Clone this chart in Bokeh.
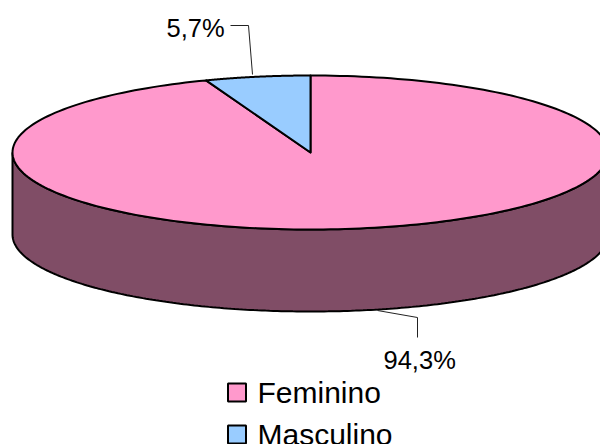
import numpy as np
from bokeh.plotting import figure
from bokeh.embed import file_html
from bokeh.resources import INLINE
from bokeh.core.properties import value

categories = ["Feminino", "Masculino"]
shares = [94.3, 5.7]
labels = ["94,3%", "5,7%"]
colors = ["#FF99CC", "#99CCFF"]
side_color = "#804D66"

CX, CY, RX, RY, DEPTH = 310, 152, 298, 77, 82
FONT = value("Liberation Sans")

p = figure(width=600, height=444, x_range=(0, 600), y_range=(444, 0),
           toolbar_location=None, output_backend="svg", min_border=0,
           outline_line_color=None, background_fill_color="white")
p.axis.visible = False
p.grid.visible = False

def arc(a0, a1, n=240):
    t = np.radians(np.linspace(a0, a1, n))
    return CX + RX * np.sin(t), CY - RY * np.cos(t)

sx, sy = arc(90, 270)
p.patch(np.r_[sx, sx[::-1]], np.r_[sy, sy[::-1] + DEPTH],
        fill_color=side_color, line_color="black", line_width=2)

start = 0.0
total = sum(shares)
for share, col in zip(shares, colors):
    end = start + 360 * share / total
    ax, ay = arc(start, end)
    p.patch(np.r_[CX, ax], np.r_[CY, ay], fill_color=col,
            line_color="black", line_width=2, line_join="round")
    start = end

p.line([377, 417, 417], [310, 317, 337], line_color="#222222", line_width=1)
p.line([230, 248, 252], [25, 25, 74], line_color="#222222", line_width=1)

p.text([383, 166], [359, 27], text=labels, text_font=FONT, text_font_size="25.5px",
       text_color="black", text_align="left", text_baseline="alphabetic")

leg_y = [392, 434]
p.rect([236.5] * 2, leg_y, width=18, height=18, fill_color=colors,
       line_color="black", line_width=2)
p.text([257] * 2, [392, 434], text=categories, text_font=FONT, text_font_size="30px",
       text_color="black", text_align="left", text_baseline="alphabetic")

html = file_html(p, INLINE)
open("out.html", "w").write(html)
